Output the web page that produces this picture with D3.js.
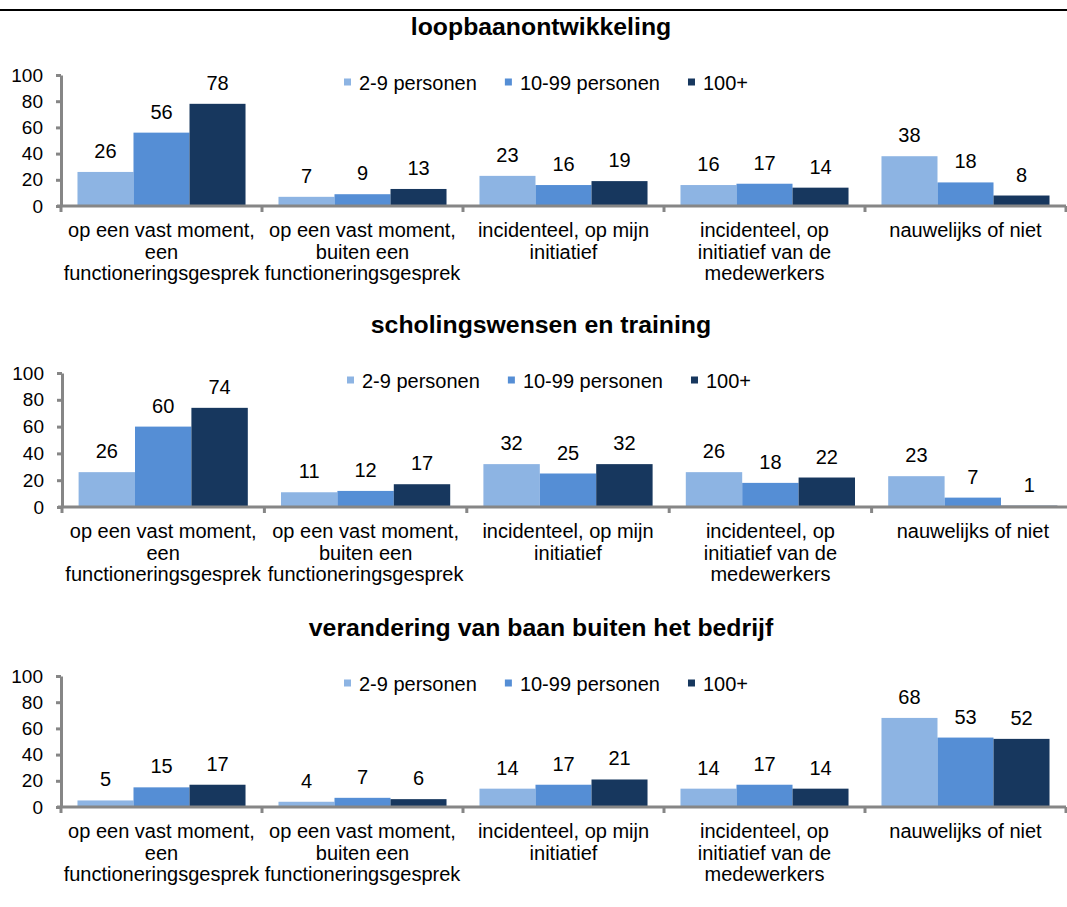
<!DOCTYPE html>
<html>
<head>
<meta charset="utf-8">
<script src="https://cdn.jsdelivr.net/npm/d3@7"></script>
<style>
  html, body { margin: 0; padding: 0; background: #fff; }
  svg { display: block; font-family: "Liberation Sans", Arial, sans-serif; }
</style>
</head>
<body>
<script>
// Category labels, one array entry per printed line
const categories = [
  ["op een vast moment,", "een", "functioneringsgesprek"],
  ["op een vast moment,", "buiten een", "functioneringsgesprek"],
  ["incidenteel, op mijn", "initiatief"],
  ["incidenteel, op", "initiatief van de", "medewerkers"],
  ["nauwelijks of niet"]
];
const seriesNames = ["2-9 personen", "10-99 personen", "100+"];
const seriesColors = ["#8db4e3", "#558ed5", "#17375e"];
const yTicks = [0, 20, 40, 60, 80, 100];

// Percentages per company size, one array per series
const loopbaan_2_9 = [26, 7, 23, 16, 38];
const loopbaan_10_99 = [56, 9, 16, 17, 18];
const loopbaan_100 = [78, 13, 19, 14, 8];

const scholing_2_9 = [26, 11, 32, 26, 23];
const scholing_10_99 = [60, 12, 25, 18, 7];
const scholing_100 = [74, 17, 32, 22, 1];

const verandering_2_9 = [5, 4, 14, 14, 68];
const verandering_10_99 = [15, 7, 17, 17, 53];
const verandering_100 = [17, 6, 21, 14, 52];

const W = 1067, H = 907;
const AXIS = "#868686";

const svg = d3.select("body").append("svg")
  .attr("width", W).attr("height", H);

// rule across the top of the page
svg.append("line")
  .attr("x1", 0).attr("x2", W).attr("y1", 10).attr("y2", 10)
  .attr("stroke", "#000").attr("stroke-width", 2);

function drawPanel(title, series, L) {
  const g = svg.append("g");
  const x0 = d3.scaleBand().domain(d3.range(categories.length))
    .range([L.left, L.right]).padding(0);
  const bw = x0.bandwidth();
  const pad = bw * 0.082;
  const x1 = d3.scaleBand().domain(d3.range(series.length)).range([pad, bw - pad]);
  const y = d3.scaleLinear().domain([0, 100]).range([L.y0, L.y100]);

  // title
  g.append("text")
    .attr("x", 541).attr("y", L.y100 - 40)
    .attr("text-anchor", "middle")
    .attr("font-size", 24.8).attr("font-weight", "bold")
    .attr("fill", "#000")
    .text(title);

  // bars
  series.forEach((vals, s) => {
    g.append("g").selectAll("rect").data(vals).join("rect")
      .attr("x", (d, i) => x0(i) + x1(s))
      .attr("width", x1.bandwidth())
      .attr("y", d => y(d))
      .attr("height", d => y(0) - y(d))
      .attr("fill", seriesColors[s]);
    g.append("g").selectAll("text").data(vals).join("text")
      .attr("x", (d, i) => x0(i) + x1(s) + x1.bandwidth() / 2)
      .attr("y", d => y(d) - 14)
      .attr("text-anchor", "middle")
      .attr("font-size", 20)
      .attr("fill", "#000")
      .text(d => d);
  });

  // y axis
  const ya = g.append("g")
    .attr("transform", `translate(${L.left},0)`)
    .call(d3.axisLeft(y).tickValues(yTicks).tickSize(5).tickSizeOuter(0).tickPadding(13));
  ya.select(".domain").attr("stroke", AXIS).attr("stroke-width", 3);
  ya.selectAll(".tick line").attr("stroke", AXIS).attr("stroke-width", 3);
  ya.selectAll(".tick text")
    .attr("font-size", 19).attr("fill", "#000")
    .attr("font-family", "Liberation Sans, Arial, sans-serif");

  // x axis line and category boundary ticks
  g.append("line")
    .attr("x1", L.left - 4).attr("x2", L.right)
    .attr("y1", y(0)).attr("y2", y(0))
    .attr("stroke", AXIS).attr("stroke-width", 3);
  const bounds = d3.range(categories.length + 1).map(i => L.left + i * x0.step());
  g.append("g").selectAll("line").data(bounds).join("line")
    .attr("x1", d => d).attr("x2", d => d)
    .attr("y1", y(0)).attr("y2", y(0) + 6)
    .attr("stroke", AXIS).attr("stroke-width", 3);

  // category labels
  const cl = g.append("g").selectAll("text").data(categories).join("text")
    .attr("text-anchor", "middle")
    .attr("font-size", 20)
    .attr("fill", "#000");
  cl.each(function (lines, i) {
    const t = d3.select(this);
    lines.forEach((ln, k) => {
      t.append("tspan")
        .attr("x", x0(i) + bw / 2)
        .attr("y", y(0) + 31 + k * 21.5)
        .text(ln);
    });
  });

  // legend
  let lx = L.legendX;
  seriesNames.forEach((name, s) => {
    g.append("rect")
      .attr("x", lx).attr("y", L.y100 + 3.5)
      .attr("width", 7).attr("height", 7)
      .attr("fill", seriesColors[s]);
    const t = g.append("text")
      .attr("x", lx + 15).attr("y", L.y100 + 15)
      .attr("font-size", 20).attr("fill", "#000")
      .text(name);
    lx += 15 + t.node().getComputedTextLength() + 28;
  });
}

drawPanel("loopbaanontwikkeling",
  [loopbaan_2_9, loopbaan_10_99, loopbaan_100],
  { left: 61, right: 1066, y0: 206, y100: 75, legendX: 344 });

drawPanel("scholingswensen en training",
  [scholing_2_9, scholing_10_99, scholing_100],
  { left: 62, right: 1074, y0: 507, y100: 373, legendX: 347 });

drawPanel("verandering van baan buiten het bedrijf",
  [verandering_2_9, verandering_10_99, verandering_100],
  { left: 61, right: 1066, y0: 807, y100: 676, legendX: 344 });
</script>
</body>
</html>
